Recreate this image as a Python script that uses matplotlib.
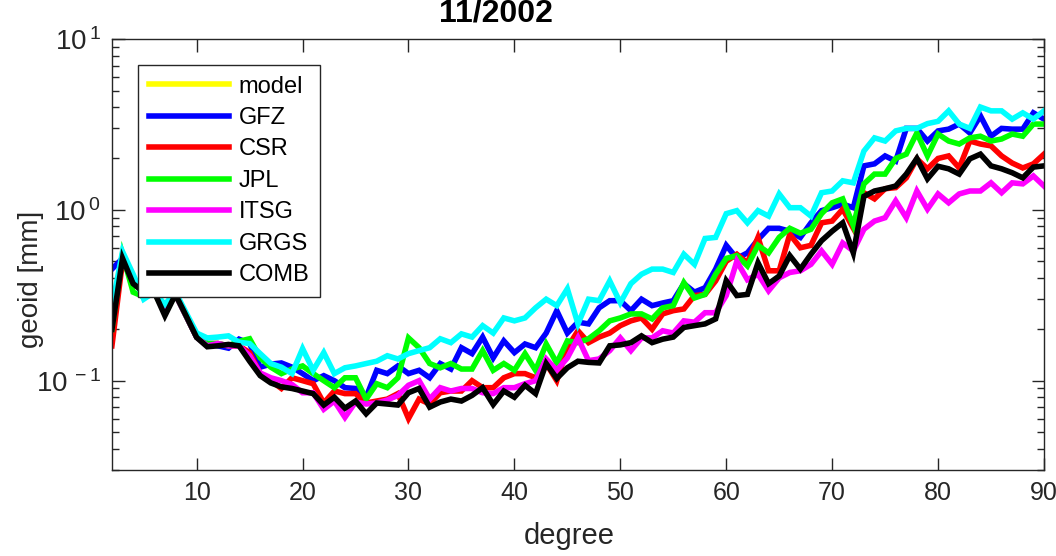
import numpy as np
import matplotlib
matplotlib.use("Agg")
import matplotlib.pyplot as plt
from matplotlib.ticker import LogLocator, FixedLocator, FuncFormatter

plt.rcParams["font.family"] = ["Liberation Sans", "DejaVu Sans"]
plt.rcParams["mathtext.fontset"] = "custom"
plt.rcParams["mathtext.rm"] = "Liberation Sans"

# degree 2..90
degree = np.arange(2, 91)

model = []  # not visible in the plot, legend entry only

gfz = [0.45, 0.52, 0.40, 0.33, 0.33, 0.26, 0.32, 0.24, 0.18,
       0.165, 0.16, 0.155, 0.175, 0.165, 0.12, 0.125, 0.127, 0.12, 0.11,
       0.10, 0.107, 0.10, 0.091, 0.09, 0.08, 0.115, 0.11, 0.122, 0.11,
       0.115, 0.104, 0.126, 0.117, 0.156, 0.144, 0.18, 0.136, 0.171, 0.146,
       0.164, 0.156, 0.19, 0.257, 0.19, 0.22, 0.215, 0.267, 0.294, 0.294,
       0.257, 0.30, 0.275, 0.285, 0.294, 0.37, 0.33, 0.35, 0.45, 0.62,
       0.52, 0.56, 0.67, 0.78, 0.78, 0.75, 0.69, 0.84, 0.99, 1.03,
       1.08, 1.03, 1.81, 1.86, 2.07, 1.93, 3.0, 3.0, 2.53, 2.9,
       2.97, 3.18, 2.82, 3.55, 2.7, 3.0, 2.97, 2.97, 3.7, 3.4]

csr = [0.16, 0.50, 0.38, 0.33, 0.33, 0.26, 0.32, 0.24, 0.18,
       0.165, 0.165, 0.16, 0.16, 0.146, 0.11, 0.10, 0.09, 0.104, 0.10,
       0.096, 0.074, 0.087, 0.084, 0.084, 0.074, 0.076, 0.078, 0.084, 0.06,
       0.078, 0.073, 0.085, 0.087, 0.087, 0.10, 0.091, 0.091, 0.104, 0.11,
       0.11, 0.104, 0.126, 0.10, 0.156, 0.196, 0.167, 0.18, 0.19, 0.21,
       0.224, 0.233, 0.20, 0.246, 0.257, 0.263, 0.315, 0.32, 0.384, 0.50,
       0.55, 0.49, 0.69, 0.44, 0.44, 0.72, 0.60, 0.62, 0.84, 0.86,
       1.01, 0.78, 1.26, 1.16, 1.33, 1.35, 1.54, 1.99, 1.74, 2.0,
       2.07, 1.76, 2.53, 2.43, 2.37, 2.07, 1.88, 1.76, 1.86, 2.12]

jpl = [0.20, 0.55, 0.33, 0.31, 0.33, 0.25, 0.32, 0.24, 0.18,
       0.165, 0.165, 0.16, 0.17, 0.176, 0.136, 0.12, 0.11, 0.117, 0.122,
       0.11, 0.10, 0.091, 0.104, 0.104, 0.078, 0.096, 0.091, 0.104, 0.178,
       0.156, 0.126, 0.119, 0.126, 0.117, 0.117, 0.15, 0.115, 0.126, 0.115,
       0.144, 0.115, 0.164, 0.127, 0.171, 0.167, 0.176, 0.196, 0.224, 0.233,
       0.246, 0.246, 0.23, 0.267, 0.275, 0.375, 0.305, 0.32, 0.42, 0.52,
       0.54, 0.47, 0.62, 0.56, 0.69, 0.78, 0.73, 0.77, 0.95, 1.10,
       1.16, 0.81, 1.42, 1.62, 1.62, 2.0, 2.12, 2.82, 2.07, 2.78,
       2.53, 2.43, 2.64, 2.7, 2.53, 2.6, 2.78, 2.7, 3.18, 3.18]

itsg = [0.25, 0.52, 0.38, 0.33, 0.33, 0.26, 0.32, 0.24, 0.18,
        0.16, 0.165, 0.16, 0.16, 0.14, 0.111, 0.104, 0.10, 0.095, 0.085,
        0.085, 0.068, 0.076, 0.061, 0.075, 0.073, 0.074, 0.077, 0.082, 0.094,
        0.10, 0.078, 0.091, 0.087, 0.09, 0.09, 0.085, 0.084, 0.091, 0.091,
        0.096, 0.10, 0.134, 0.115, 0.136, 0.178, 0.131, 0.134, 0.15, 0.178,
        0.15, 0.178, 0.178, 0.196, 0.19, 0.224, 0.22, 0.25, 0.25, 0.315,
        0.50, 0.39, 0.42, 0.336, 0.40, 0.43, 0.44, 0.48, 0.575, 0.48,
        0.64, 0.575, 0.77, 0.86, 0.90, 1.13, 0.90, 1.29, 1.01, 1.24,
        1.10, 1.24, 1.29, 1.29, 1.44, 1.26, 1.44, 1.42, 1.58, 1.38]

grgs = [0.27, 0.57, 0.42, 0.30, 0.33, 0.28, 0.33, 0.25, 0.19,
        0.178, 0.18, 0.183, 0.168, 0.165, 0.144, 0.126, 0.12, 0.11, 0.154,
        0.115, 0.146, 0.11, 0.119, 0.122, 0.126, 0.13, 0.14, 0.134, 0.144,
        0.15, 0.156, 0.176, 0.167, 0.188, 0.18, 0.21, 0.19, 0.233, 0.224,
        0.233, 0.267, 0.30, 0.275, 0.345, 0.215, 0.30, 0.294, 0.384, 0.286,
        0.37, 0.42, 0.45, 0.45, 0.43, 0.55, 0.48, 0.68, 0.69, 0.95,
        0.99, 0.84, 0.99, 0.92, 1.24, 1.03, 1.03, 0.92, 1.26, 1.29,
        1.48, 1.44, 2.21, 2.64, 2.53, 2.9, 3.0, 3.0, 3.2, 3.3,
        3.8, 3.18, 3.0, 4.0, 3.8, 3.8, 3.4, 3.7, 3.4, 3.8]

comb = [0.20, 0.52, 0.37, 0.33, 0.33, 0.24, 0.32, 0.24, 0.179,
        0.158, 0.16, 0.163, 0.16, 0.13, 0.107, 0.097, 0.092, 0.09, 0.087,
        0.084, 0.072, 0.08, 0.069, 0.076, 0.064, 0.074, 0.073, 0.072, 0.085,
        0.09, 0.07, 0.075, 0.078, 0.076, 0.082, 0.091, 0.0725, 0.087, 0.08,
        0.094, 0.084, 0.126, 0.103, 0.119, 0.13, 0.128, 0.127, 0.16, 0.162,
        0.167, 0.183, 0.167, 0.175, 0.18, 0.205, 0.21, 0.215, 0.23, 0.385,
        0.315, 0.32, 0.49, 0.37, 0.41, 0.54, 0.45, 0.55, 0.66, 0.75,
        0.84, 0.56, 1.2, 1.29, 1.33, 1.38, 1.62, 2.0, 1.52, 1.8,
        1.74, 1.62, 1.99, 2.12, 1.81, 1.74, 1.65, 1.54, 1.78, 1.81]

labels = ["model", "GFZ", "CSR", "JPL", "ITSG", "GRGS", "COMB"]
colors = ["#ffff00", "#0000ff", "#ff0000", "#00ff00", "#ff00ff", "#00ffff", "#000000"]
series = [model, gfz, csr, jpl, itsg, grgs, comb]
xticks = [10, 20, 30, 40, 50, 60, 70, 80, 90]

AX_COLOR = "#262626"

fig = plt.figure(figsize=(10.56, 5.56), dpi=100)
ax = fig.add_axes([0.106, 0.1547, 0.8826, 0.775])

for vals, lab, col in zip(series, labels, colors):
    ax.plot(degree[:len(vals)], vals, color=col, lw=4, label=lab,
            solid_joinstyle="miter")

ax.set_yscale("log")
ax.set_xlim(2, 90)
ax.set_ylim(0.03, 10)
ax.xaxis.set_major_locator(FixedLocator(xticks))
ax.yaxis.set_major_locator(LogLocator(base=10, numticks=10))
ax.yaxis.set_minor_locator(LogLocator(base=10, subs=np.arange(2, 10), numticks=10))
ax.yaxis.set_major_formatter(FuncFormatter(
    lambda v, _: r"$\mathregular{10^{\,%d}}$" % round(np.log10(v))))

ax.tick_params(which="both", direction="in", top=True, right=True,
               colors=AX_COLOR, labelcolor=AX_COLOR, width=1.0)
ax.tick_params(axis="x", labelsize=18)
ax.tick_params(axis="y", labelsize=20)
ax.tick_params(which="major", length=9, pad=8)
ax.tick_params(which="minor", length=5)
for sp in ax.spines.values():
    sp.set_color(AX_COLOR)
    sp.set_linewidth(1.0)

# matlab puts the labels a bit off-centre, follow the reference
ax.set_xlabel("degree", fontsize=21, color=AX_COLOR)
ax.xaxis.set_label_coords(0.491, -0.12)
ax.set_ylabel("geoid [mm]", fontsize=20, color=AX_COLOR)
ax.yaxis.set_label_coords(-0.073, 0.443)
fig.text(496 / 1056, 1 - 13 / 556, "11/2002", fontsize=23, fontweight="bold",
         color="black", ha="center", va="center")

leg = ax.legend(loc="upper left", bbox_to_anchor=(0.028, 0.94), borderaxespad=0,
                fontsize=17, handlelength=3.4, handletextpad=0.4,
                labelspacing=0.40, borderpad=0.45, fancybox=False, framealpha=1)
leg.get_frame().set_edgecolor(AX_COLOR)
leg.get_frame().set_linewidth(1.0)
for t in leg.get_texts():
    t.set_color("black")

fig.savefig("out.png", dpi=100)
